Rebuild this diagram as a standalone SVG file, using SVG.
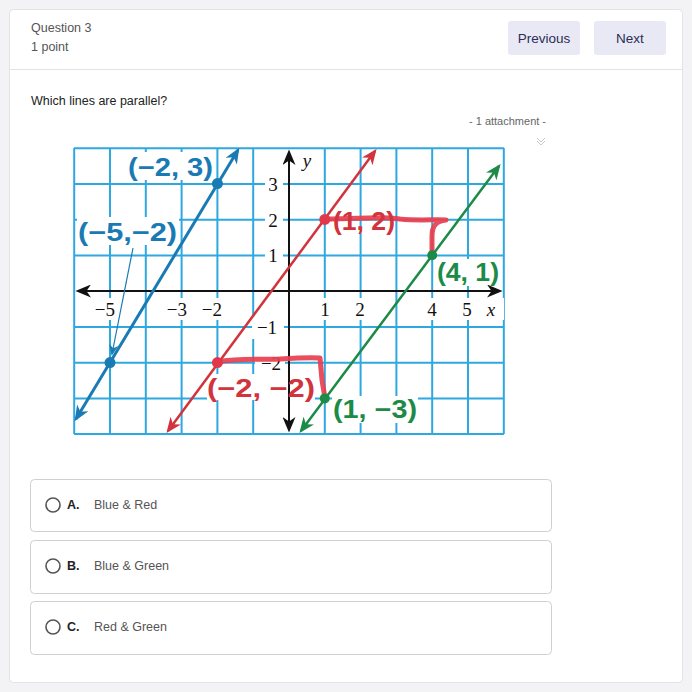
<svg xmlns="http://www.w3.org/2000/svg" width="692" height="692" viewBox="0 0 692 692">
<style>
.ui{font-family:"Liberation Sans",Arial,sans-serif}
.grid line{stroke:#2ea8e0;stroke-width:2}
.tick{font-family:"Liberation Serif","Times New Roman",serif;font-size:19px;fill:#111}
.pl{font-family:"Liberation Sans",Arial,sans-serif;font-weight:bold;font-size:25px}
.opt{fill:#fff;stroke:#cfcfd4;stroke-width:1}
.radio{fill:#fff;stroke:#555;stroke-width:1.6}
</style>
<defs>
<marker id="ab" viewBox="0 0 12 10" refX="10" refY="5" markerWidth="16" markerHeight="13" markerUnits="userSpaceOnUse" orient="auto-start-reverse"><path d="M0,0 L12,5 L0,10 L3.5,5 z" fill="#1a7ab3"/></marker>
<marker id="ar" viewBox="0 0 12 10" refX="10" refY="5" markerWidth="16" markerHeight="13" markerUnits="userSpaceOnUse" orient="auto-start-reverse"><path d="M0,0 L12,5 L0,10 L3.5,5 z" fill="#d1343c"/></marker>
<marker id="ag" viewBox="0 0 12 10" refX="10" refY="5" markerWidth="16" markerHeight="13" markerUnits="userSpaceOnUse" orient="auto-start-reverse"><path d="M0,0 L12,5 L0,10 L3.5,5 z" fill="#1c8b47"/></marker>
<marker id="ak" viewBox="0 0 12 10" refX="10" refY="5" markerWidth="16" markerHeight="13" markerUnits="userSpaceOnUse" orient="auto-start-reverse"><path d="M0,0 L12,5 L0,10 L3.5,5 z" fill="#111"/></marker>
<marker id="al" viewBox="0 0 12 10" refX="10" refY="5" markerWidth="11" markerHeight="10" markerUnits="userSpaceOnUse" orient="auto"><path d="M0,0 L12,5 L0,10 L3.5,5 z" fill="#1a7ab3"/></marker>
</defs>
<rect width="692" height="692" fill="#f3f3f5"/>
<rect x="9.5" y="9.5" width="673" height="673" rx="4" fill="#fff" stroke="#e3e3e6"/>
<line x1="10" y1="69.5" x2="682" y2="69.5" stroke="#e3e3e6"/>
<g id="header" class="ui">
<text x="31" y="32" font-size="12.5" fill="#555">Question 3</text>
<text x="31" y="51" font-size="12.5" fill="#555">1 point</text>
</g>
<g id="btn-prev" class="ui">
<rect x="508" y="21" width="72" height="34" rx="3" fill="#e8e9f4"/>
<text x="544" y="42.5" font-size="13.5" fill="#2b2e56" text-anchor="middle">Previous</text>
</g>
<g id="btn-next" class="ui">
<rect x="594" y="21" width="72" height="34" rx="3" fill="#e8e9f4"/>
<text x="630" y="42.5" font-size="13.5" fill="#2b2e56" text-anchor="middle">Next</text>
</g>
<g id="question" class="ui">
<text x="31" y="105" font-size="12.5" fill="#222">Which lines are parallel?</text>
<text x="469" y="125" font-size="11" fill="#666">- 1 attachment  -</text>
<path d="M537,138 L541,142 L545,138 M537,141 L541,145 L545,141" fill="none" stroke="#c8c8cc" stroke-width="1"/>
</g>
<g id="graph">
<rect x="74" y="148" width="430" height="286" fill="#fff"/>
<g class="grid">
<line x1="74.2" y1="148" x2="74.2" y2="434"/><line x1="110" y1="148" x2="110" y2="434"/><line x1="145.8" y1="148" x2="145.8" y2="434"/><line x1="181.6" y1="148" x2="181.6" y2="434"/><line x1="217.4" y1="148" x2="217.4" y2="434"/><line x1="253.2" y1="148" x2="253.2" y2="434"/><line x1="324.8" y1="148" x2="324.8" y2="434"/><line x1="360.6" y1="148" x2="360.6" y2="434"/><line x1="396.4" y1="148" x2="396.4" y2="434"/><line x1="432.2" y1="148" x2="432.2" y2="434"/><line x1="468" y1="148" x2="468" y2="434"/><line x1="503.8" y1="148" x2="503.8" y2="434"/>
<line x1="74" y1="148.2" x2="504" y2="148.2"/><line x1="74" y1="184" x2="504" y2="184"/><line x1="74" y1="219.8" x2="504" y2="219.8"/><line x1="74" y1="255.6" x2="504" y2="255.6"/><line x1="74" y1="327" x2="504" y2="327"/><line x1="74" y1="362.8" x2="504" y2="362.8"/><line x1="74" y1="398.6" x2="504" y2="398.6"/><line x1="74" y1="434" x2="504" y2="434"/>
</g>
<g fill="#fff">
<rect x="126" y="152" width="90" height="28"/>
<rect x="77" y="217" width="102" height="28"/>
<rect x="87" y="298" width="31" height="22"/><rect x="160" y="298" width="66" height="22"/><rect x="318" y="298" width="50" height="22"/><rect x="424" y="298" width="80" height="22"/>
<rect x="265" y="174" width="18" height="22"/><rect x="265" y="210" width="18" height="22"/><rect x="265" y="245" width="18" height="22"/><rect x="252" y="317" width="32" height="22"/><rect x="255" y="352" width="30" height="22"/>
<rect x="436" y="259" width="64" height="27"/>
<rect x="332" y="396" width="86" height="27"/>
<rect x="207" y="374" width="108" height="26"/>
</g>
<g id="axes">
<line x1="78" y1="291" x2="500" y2="291" stroke="#111" stroke-width="2" marker-start="url(#ak)" marker-end="url(#ak)"/>
<line x1="289" y1="430" x2="289" y2="152" stroke="#111" stroke-width="2" marker-start="url(#ak)" marker-end="url(#ak)"/>
</g>
<g id="ticks" class="tick">
<text x="115" y="316" text-anchor="end">−5</text>
<text x="187" y="316" text-anchor="end">−3</text>
<text x="222" y="316" text-anchor="end">−2</text>
<text x="325" y="316" text-anchor="middle">1</text>
<text x="360" y="316" text-anchor="middle">2</text>
<text x="432" y="316" text-anchor="middle">4</text>
<text x="467" y="316" text-anchor="middle">5</text>
<text x="491" y="316" text-anchor="middle" font-style="italic">x</text>
<text x="307" y="167" text-anchor="middle" font-style="italic">y</text>
<text x="273" y="191" text-anchor="middle">3</text>
<text x="273" y="227" text-anchor="middle">2</text>
<text x="273" y="262" text-anchor="middle">1</text>
<text x="267" y="334" text-anchor="middle">−1</text>
<text x="271" y="370" text-anchor="middle">−2</text>
</g>
</g>
<g id="connectors">
<line id="blue-line" x1="76" y1="419" x2="238" y2="150" stroke="#1a7ab3" stroke-width="3" marker-start="url(#ab)" marker-end="url(#ab)"/>
<line id="red-line" x1="168" y1="431" x2="375" y2="151" stroke="#d1343c" stroke-width="2.5" marker-start="url(#ar)" marker-end="url(#ar)"/>
<line id="green-line" x1="301" y1="431" x2="499" y2="166" stroke="#1c8b47" stroke-width="2.5" marker-start="url(#ag)" marker-end="url(#ag)"/>
<line id="leader" x1="133" y1="248" x2="112" y2="354" stroke="#1a7ab3" stroke-width="1.2" marker-end="url(#al)"/>
<path id="red-mark-1" d="M325,219 C360,219 380,216 400,219 C420,221 438,219 446,220 M446,220 C436,221 432,226 432,236 L432,255" fill="none" stroke="#e83e4e" stroke-width="5" stroke-linecap="round" stroke-linejoin="round" opacity="0.92"/>
<path id="red-mark-2" d="M217,362 C240,358 260,360 280,359 C295,358 310,357 320,358 L322,380 L325,398" fill="none" stroke="#e83e4e" stroke-width="5" stroke-linecap="round" stroke-linejoin="round" opacity="0.92"/>
</g>
<g id="pt-blue-1"><circle cx="217.4" cy="183.6" r="5.5" fill="#1a7ab3"/><text class="pl" x="128" y="176" fill="#1a7ab3" textLength="85" lengthAdjust="spacingAndGlyphs">(−2, 3)</text></g>
<g id="pt-blue-2"><circle cx="110" cy="362.6" r="5.5" fill="#1a7ab3"/><text class="pl" x="78" y="241" fill="#1a7ab3" textLength="99" lengthAdjust="spacingAndGlyphs">(−5,−2)</text></g>
<g id="pt-red-1"><circle cx="324.8" cy="219.4" r="5.5" fill="#e0384a"/><text class="pl" x="333" y="230" fill="#d1343c" textLength="62" lengthAdjust="spacingAndGlyphs">(1, 2)</text></g>
<g id="pt-red-2"><circle cx="217.4" cy="362.6" r="5.5" fill="#e0384a"/><text class="pl" x="207" y="397" fill="#d1343c" textLength="108" lengthAdjust="spacingAndGlyphs">(−2, −2)</text></g>
<g id="pt-green-1"><circle cx="432.2" cy="255.2" r="5" fill="#1c8b47"/><text class="pl" x="437" y="281" fill="#1c8b47" textLength="62" lengthAdjust="spacingAndGlyphs">(4, 1)</text></g>
<g id="pt-green-2"><circle cx="324.8" cy="398.4" r="5" fill="#1c8b47"/><text class="pl" x="333" y="418" fill="#1c8b47" textLength="84" lengthAdjust="spacingAndGlyphs">(1, −3)</text></g>
<g id="option-a" class="ui"><rect class="opt" x="30.5" y="479.5" width="521" height="52" rx="4"/><circle class="radio" cx="53" cy="505" r="7"/><text x="67" y="509" font-size="12.5" font-weight="bold" fill="#222">A.</text><text x="94" y="509" font-size="12.5" fill="#555">Blue &amp; Red</text></g>
<g id="option-b" class="ui"><rect class="opt" x="30.5" y="540.5" width="521" height="53" rx="4"/><circle class="radio" cx="53" cy="566" r="7"/><text x="67" y="570" font-size="12.5" font-weight="bold" fill="#222">B.</text><text x="94" y="570" font-size="12.5" fill="#555">Blue &amp; Green</text></g>
<g id="option-c" class="ui"><rect class="opt" x="30.5" y="601.5" width="521" height="53" rx="4"/><circle class="radio" cx="53" cy="627" r="7"/><text x="67" y="631" font-size="12.5" font-weight="bold" fill="#222">C.</text><text x="94" y="631" font-size="12.5" fill="#555">Red &amp; Green</text></g>
</svg>
